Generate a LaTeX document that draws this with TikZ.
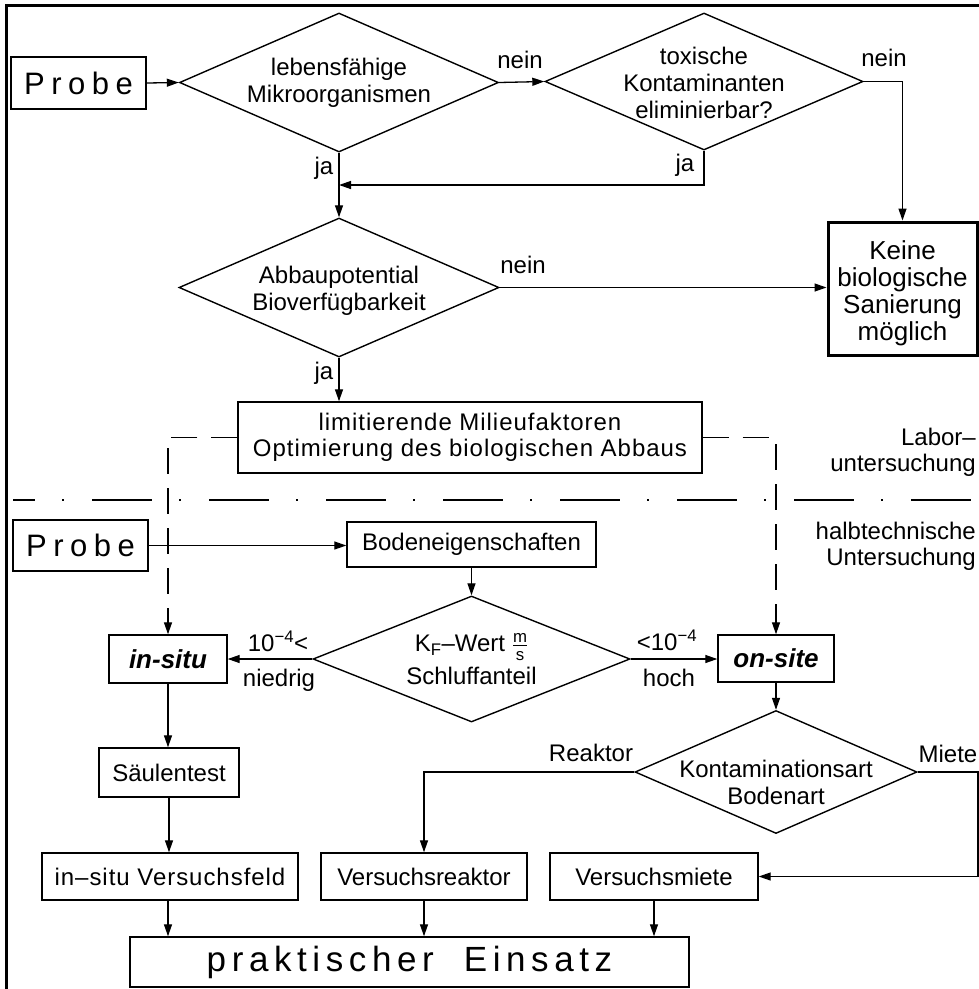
\documentclass[tikz,border=0pt]{standalone}
\usepackage{amsmath}
\usepackage{fontspec}
\setmainfont{Liberation Sans}
\newfontfamily\widefont[LetterSpace=21]{Liberation Sans}
\newfontfamily\einsfont[LetterSpace=16]{Liberation Sans}
\newfontfamily\limfont[LetterSpace=4]{Liberation Sans}
\usetikzlibrary{arrows.meta,shapes.geometric}
\begin{document}
\begin{tikzpicture}[x=1pt,y=-1pt,
  txt/.style={font=\fontsize{24}{27}\selectfont, align=center},
  box/.style={draw, line width=1.4pt, inner sep=0pt, txt},
  dia/.style={draw, diamond, line width=1.4pt, inner sep=0pt},
  arr/.style={line width=1.3pt, -{Triangle[length=12pt,width=8pt]}},
  dsh/.style={arr, dash pattern=on 26pt off 14pt},
  sepline/.style={line width=1.8pt, dash pattern=on 60pt off 27pt on 2pt off 28pt, dash phase=38pt},
  lbl/.style={txt, inner sep=0pt},
  every label/.style={txt, inner sep=0pt},
]
\useasboundingbox (0,0) rectangle (979,989);
% frame
\draw[line width=3pt] (6.5,989) -- (6.5,5.3) -- (979,5.3);

% upper part
\node[box, minimum width=135pt, minimum height=52pt, font=\widefont\fontsize{31}{31}\selectfont] (p1) at (78.5,83) {Probe};
\node[dia, minimum width=319pt, minimum height=139pt, label={center:lebensfähige\\Mikroorganismen}] (d1) at (339,82.5) {};
\node[dia, minimum width=318pt, minimum height=137pt, label={[yshift=-1pt]center:toxische\\Kontaminanten\\eliminierbar?}] (d2) at (704,81.5) {};
\node[dia, minimum width=320pt, minimum height=139pt, label={[yshift=-3pt]center:Abbaupotential\\Bioverfügbarkeit}] (d3) at (339,287.5) {};
\node[box, line width=3pt, minimum width=149pt, minimum height=133pt, label={[yshift=-5pt, font=\fontsize{26}{27}\selectfont]center:Keine\\biologische\\Sanierung\\möglich}] (k) at (902.5,288.5) {};
\node[box, minimum width=464pt, minimum height=71pt, font=\limfont\fontsize{24}{26}\selectfont] (lim) at (470,437.5) {limitierende Milieufaktoren\\Optimierung des biologischen Abbaus};

% lower part
\node[box, minimum width=135pt, minimum height=51pt, font=\widefont\fontsize{31}{31}\selectfont] (p2) at (80.5,545.5) {Probe};
\node[box, minimum width=249pt, minimum height=45pt] (boden) at (471.5,544.5) {Bodeneigenschaften};
\node[dia, minimum width=317pt, minimum height=126pt, label={[font=\fontsize{24}{33}\selectfont]center:K\textsubscript{F}–Wert $\frac{\text{m}}{\text{s}}$\\Schluffanteil}] (d4) at (471.5,659) {};
\node[box, minimum width=118pt, minimum height=48pt, font=\bfseries\itshape\fontsize{26}{26}\selectfont] (insitu) at (168,659) {in-situ};
\node[box, minimum width=116pt, minimum height=47pt, font=\bfseries\itshape\fontsize{26}{26}\selectfont] (onsite) at (776,658.5) {on-site};
\node[dia, minimum width=282pt, minimum height=123pt, label={[yshift=-10pt]center:Kontaminationsart\\Bodenart}] (d5) at (776,772) {};
\node[box, minimum width=140pt, minimum height=49pt] (saeulen) at (169,772.5) {Säulentest};
\node[box, minimum width=256pt, minimum height=47pt, font=\limfont\fontsize{24}{27}\selectfont] (feld) at (170,876.5) {in–situ Versuchsfeld};
\node[box, minimum width=206pt, minimum height=47pt] (reaktor) at (424,876.5) {Versuchsreaktor};
\node[box, minimum width=208pt, minimum height=47pt] (miete) at (654,876.5) {Versuchsmiete};
\node[box, minimum width=559pt, minimum height=50pt, font=\einsfont\fontsize{35}{35}\selectfont] (einsatz) at (409.5,962) {praktischer\hspace{30pt}Einsatz};

% labels
\node[lbl] (n1) at (520,60) {nein};
\node[lbl] (n2) at (884,58) {nein};
\node[lbl] (ja1) at (324,168) {ja};
\node[lbl] (ja2) at (685,165) {ja};
\node[lbl] (n3) at (523,265) {nein};
\node[lbl] (ja3) at (324,373) {ja};
\node[lbl, align=right, anchor=east, font=\fontsize{24}{26}\selectfont] (labor) at (976,452) {Labor–\\untersuchung};
\node[lbl, align=right, anchor=east, font=\fontsize{24}{26}\selectfont] (halb) at (976,546) {halbtechnische\\Untersuchung};
\node[lbl] (lo1) at (278,641) {10\textsuperscript{−4}<};
\node[lbl] (lo2) at (279,680) {niedrig};
\node[lbl] (hi1) at (667,640) {<10\textsuperscript{−4}};
\node[lbl] (hi2) at (669,678) {hoch};
\node[lbl] (rk) at (591,753) {Reaktor};
\node[lbl] (mt) at (948,754) {Miete};

% separator
\draw[sepline] (13,500) -- (977,500);

% connectors
\coordinate (jm) at (339,185);
\coordinate (mr) at (978,772);
\draw[arr] (p1.east) -- (d1.west);
\draw[arr] (d1.east) -- (d2.west);
\draw[arr] (d2.east) -| (k.north);
\draw[arr] (d2.south) |- (jm);
\draw[arr] (d1.south) -- (d3.north);
\draw[arr] (d3.east) -- (d3.east -| k.west);
\draw[arr] (d3.south) -- (d3.south |- lim.north);
\draw[dsh] (lim.west) -| (insitu.north);
\draw[dsh] (lim.east) -| (onsite.north);
\draw[arr] (p2.east) -- (p2.east -| boden.west);
\draw[arr] (boden.south) -- (d4.north);
\draw[arr] (d4.west) -- (insitu.east);
\draw[arr] (d4.east) -- (d4.east -| onsite.west);
\draw[arr] (onsite.south) -- (d5.north);
\draw[arr] (d5.west) -| (reaktor.north);
\draw[arr] (d5.east) -- (mr) |- (miete.east);
\draw[arr] (insitu.south) -- (insitu.south |- saeulen.north);
\draw[arr] (saeulen.south) -- (saeulen.south |- feld.north);
\draw[arr] (insitu.south |- feld.south) -- (insitu.south |- einsatz.north);
\draw[arr] (reaktor.south) -- (reaktor.south |- einsatz.north);
\draw[arr] (miete.south) -- (miete.south |- einsatz.north);
\end{tikzpicture}
\end{document}
